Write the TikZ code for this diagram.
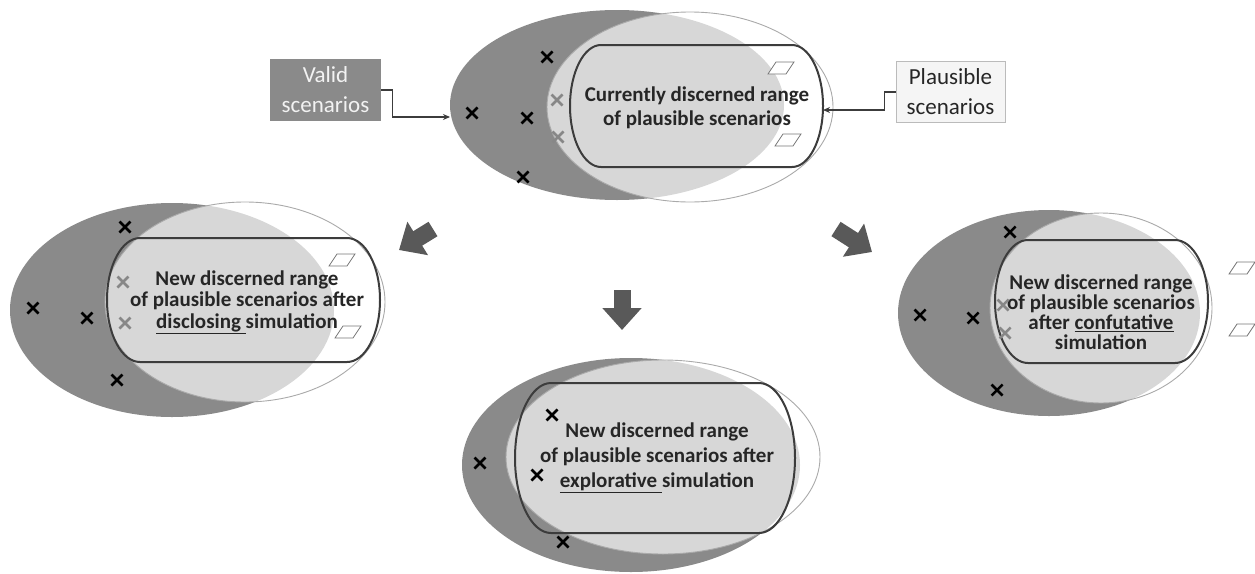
\documentclass[tikz,border=0pt]{standalone}
\usepackage{fontspec}
\setmainfont{Carlito}
\usetikzlibrary{arrows.meta}

\definecolor{validgray}{RGB}{138,138,138}
\definecolor{edgegray}{RGB}{170,170,170}
\definecolor{rangegray}{RGB}{60,60,60}
\definecolor{arrowgray}{RGB}{89,89,89}
\definecolor{hidgray}{RGB}{135,135,135}
\definecolor{inkgray}{RGB}{38,38,38}

\tikzset{
  plaus/.style={fill=white,fill opacity=0.66,draw=edgegray,line width=0.9pt},
  rangeline/.style={draw=rangegray,line width=2pt},
  rangetext/.style={align=center,text=inkgray,inner sep=0pt,font=\bfseries\fontsize{21}{#1}\selectfont},
  validbox/.style={fill=validgray,text=white!95!black,minimum width=111,minimum height=62,inner sep=0pt,align=center,font=\fontsize{23}{30}\selectfont},
  plausbox/.style={fill=white!96!black,draw=edgegray!80,line width=0.8pt,text=inkgray,minimum width=109,minimum height=61,inner sep=0pt,align=center,font=\fontsize{23}{30}\selectfont},
  link/.style={draw=rangegray,line width=1.4pt,-{Stealth[length=7,width=6]}},
  bigarrow/.style={draw=arrowgray,line width=17pt,-{Triangle[length=22pt,width=38pt]}},
  xmark/.pic={\draw[line width=2.5pt] (-5.5,-5.5) -- (5.5,5.5) (-5.5,5.5) -- (5.5,-5.5);},
  scen/.pic={\draw[fill=white,draw=rangegray!70,line width=0.8pt] (-13,6) -- (5,6) -- (13,-6) -- (-5,-6) -- cycle;}
}

% outline of a discerned range: centre x, centre y, half width, half height, end radius
\newcommand{\rangeloop}[5]{%
  \draw[rangeline] (#1-#3+#5,#2-#4) -- (#1+#3-#5,#2-#4)
    arc[start angle=-90,end angle=90,x radius=#5,y radius=#4]
    -- (#1-#3+#5,#2+#4)
    arc[start angle=90,end angle=270,x radius=#5,y radius=#4] -- cycle;}

\begin{document}
\begin{tikzpicture}[x=1pt,y=-1pt]
  \useasboundingbox (0,0) rectangle (1255,573);

  % current range
  \fill[validgray] (617,105) ellipse [x radius=167,y radius=95];
  \filldraw[plaus] (690,107) ellipse [x radius=143,y radius=95];
  \rangeloop{696.5}{106}{126.5}{61}{31}
  \node[rangetext=24] (topText) at (697,108) {Currently discerned range\\of plausible scenarios};
  \pic at (472,113) {xmark};
  \pic at (527,118) {xmark};
  \pic at (547,57) {xmark};
  \pic at (523,177) {xmark};
  \pic[hidgray] at (557,100) {xmark};
  \pic[hidgray] at (558,137) {xmark};
  \pic at (781,68) {scen};
  \pic at (788,140) {scen};

  \node[validbox] (validBox) at (325.5,90) {Valid\\scenarios};
  \node[plausbox] (plausBox) at (950.5,92) {Plausible\\scenarios};
  \coordinate (validIn) at (450,117);
  \coordinate (rangeIn) at (823,110);
  \draw[link] (validBox.east) -- ++(11,0) |- (validIn);
  \draw[link] (plausBox.west) -- ++(-11,0) |- (rangeIn);

  % disclosing
  \fill[validgray] (172,310) ellipse [x radius=162,y radius=107];
  \filldraw[plaus] (245,302) ellipse [x radius=140,y radius=100];
  \rangeloop{243.5}{300}{136.5}{62}{33}
  \node[rangetext=21.5] (leftText) at (247,302) {New discerned range\\of plausible scenarios after\\\underline{disclosing\ }simulation};
  \pic at (125,227) {xmark};
  \pic at (33,308) {xmark};
  \pic at (87,318) {xmark};
  \pic at (117,380) {xmark};
  \pic[hidgray] at (123,282) {xmark};
  \pic[hidgray] at (125,323) {xmark};
  \pic at (342,260) {scen};
  \pic at (348,332) {scen};

  % confutative
  \fill[validgray] (1049,313) ellipse [x radius=151,y radius=103];
  \filldraw[plaus] (1101,308) ellipse [x radius=111,y radius=95];
  \rangeloop{1101.5}{301.5}{106.5}{61.5}{33}
  \node[rangetext=20] (rightText) at (1101,312) {New discerned range\\of plausible scenarios\\after \underline{confutative}\\simulation};
  \pic at (1010,232) {xmark};
  \pic at (920,315) {xmark};
  \pic at (973,318) {xmark};
  \pic at (997,390) {xmark};
  \pic[hidgray] at (1003,305) {xmark};
  \pic[hidgray] at (1005,333) {xmark};
  \pic at (1242,268) {scen};
  \pic at (1242,330) {scen};

  % explorative
  \fill[validgray] (631,465) ellipse [x radius=169,y radius=107];
  \filldraw[plaus] (663,457) ellipse [x radius=157,y radius=97];
  \rangeloop{655}{458}{140}{75}{36}
  \node[rangetext=25] (midText) at (657,458) {New discerned range\\of plausible scenarios after\\\underline{explorative\ }simulation};
  \pic at (552,415) {xmark};
  \pic at (480,463) {xmark};
  \pic at (537,475) {xmark};
  \pic at (563,542) {xmark};

  % block arrows
  \coordinate (leftFrom) at (433,229);
  \coordinate (leftTo) at (399,250);
  \coordinate (midFrom) at (622,290);
  \coordinate (midTo) at (622,330);
  \coordinate (rightFrom) at (836,229);
  \coordinate (rightTo) at (872,252);
  \draw[bigarrow] (leftFrom) -- (leftTo);
  \draw[bigarrow] (midFrom) -- (midTo);
  \draw[bigarrow] (rightFrom) -- (rightTo);
\end{tikzpicture}
\end{document}
